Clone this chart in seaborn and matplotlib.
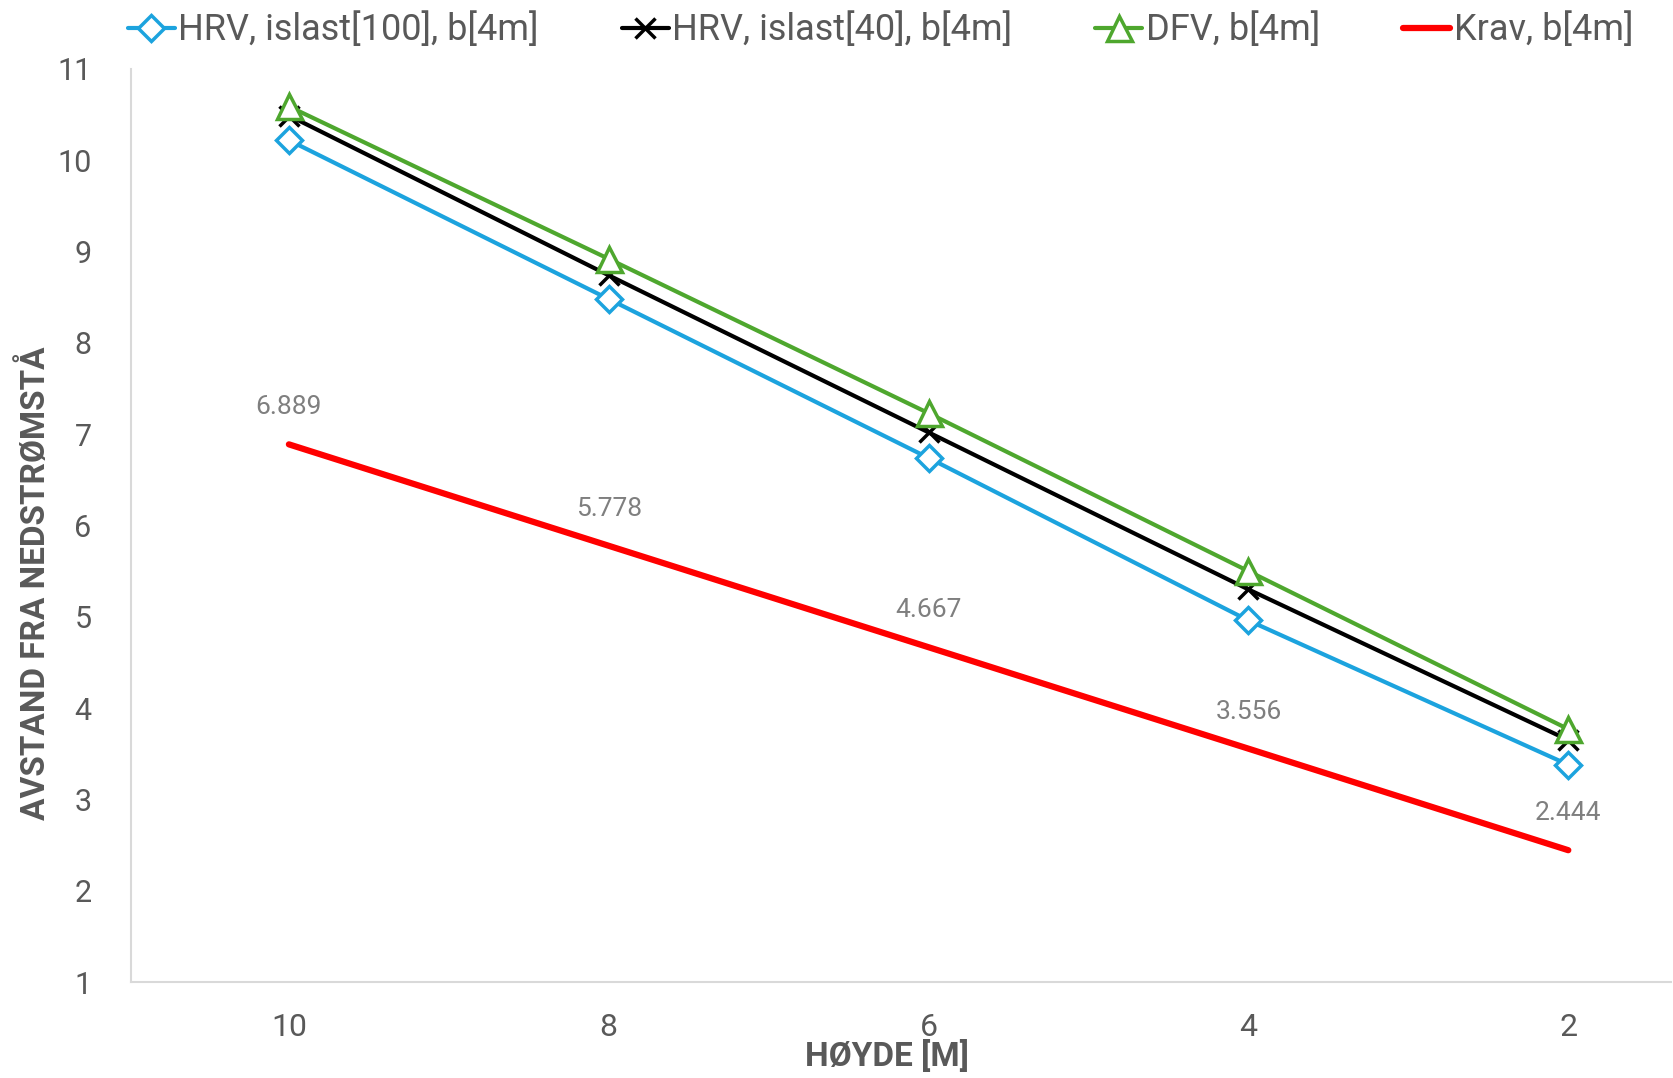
import pandas as pd
import seaborn as sns
from matplotlib import pyplot as plt

# data
hoyde = ["10", "8", "6", "4", "2"]
hrv_100 = [10.22, 8.48, 6.74, 4.96, 3.38]
hrv_40 = [10.49, 8.74, 7.02, 5.30, 3.65]
dfv = [10.59, 8.92, 7.23, 5.50, 3.77]
krav = [6.889, 5.778, 4.667, 3.556, 2.444]

sns.set_theme(style="white")
plt.rcParams["font.family"] = ["Roboto", "DejaVu Sans"]

grey = "#595959"
pos = list(range(len(hoyde)))

fig = plt.figure(figsize=(16.74, 10.78), dpi=100)
ax = fig.add_axes([0.078, 0.089, 0.92, 0.847])

sns.lineplot(x=pos, y=hrv_100, ax=ax, color="#1ca3de", lw=3, marker="D", ms=13,
             mfc="white", mec="#1ca3de", mew=2.5, label="HRV, islast[100], b[4m]")
sns.lineplot(x=pos, y=hrv_40, ax=ax, color="black", lw=3, marker="x", ms=15,
             mec="black", mew=2.5, label="HRV, islast[40], b[4m]")
sns.lineplot(x=pos, y=dfv, ax=ax, color="#4ea72e", lw=3, marker="^", ms=18,
             mfc="white", mec="#4ea72e", mew=2.5, label="DFV, b[4m]")
sns.lineplot(x=pos, y=krav, ax=ax, color="#ff0000", lw=4.5, label="Krav, b[4m]")

for x, y in zip(pos, krav):
    ax.annotate(f"{y:.3f}", (x, y), xytext=(0, 18), textcoords="offset points",
                ha="center", va="bottom", fontsize=19, color="#7f7f7f")

ax.set_xlim(-0.495, 4.32)
ax.set_ylim(1, 11)
ax.set_yticks(range(1, 12))
ax.set_xticks(pos)
ax.set_xticklabels(hoyde)
ax.tick_params(axis="x", labelsize=23, labelcolor=grey, length=0, pad=22)
ax.tick_params(axis="y", labelsize=22, labelcolor=grey, length=0, pad=28)

for s in ["top", "right"]:
    ax.spines[s].set_visible(False)
for s in ["left", "bottom"]:
    ax.spines[s].set_color("#d9d9d9")
    ax.spines[s].set_linewidth(1.5)

ax.set_xlabel("HØYDE [M]", fontsize=24, fontweight="bold", color=grey)
ax.xaxis.set_label_coords(0.491, -0.064)
ax.set_ylabel("AVSTAND FRA NEDSTRØMSTÅ", fontsize=24, fontweight="bold", color=grey)
ax.yaxis.set_label_coords(-0.051, 0.437)

handles, labels = ax.get_legend_handles_labels()
ax.get_legend().remove()
fig.legend(handles, labels, loc="center", bbox_to_anchor=(0.526, 0.972), ncol=4,
           frameon=False, fontsize=26, handlelength=1.3, handletextpad=0.1,
           columnspacing=2.3, labelcolor=grey)

plt.savefig("out.png", dpi=100)
